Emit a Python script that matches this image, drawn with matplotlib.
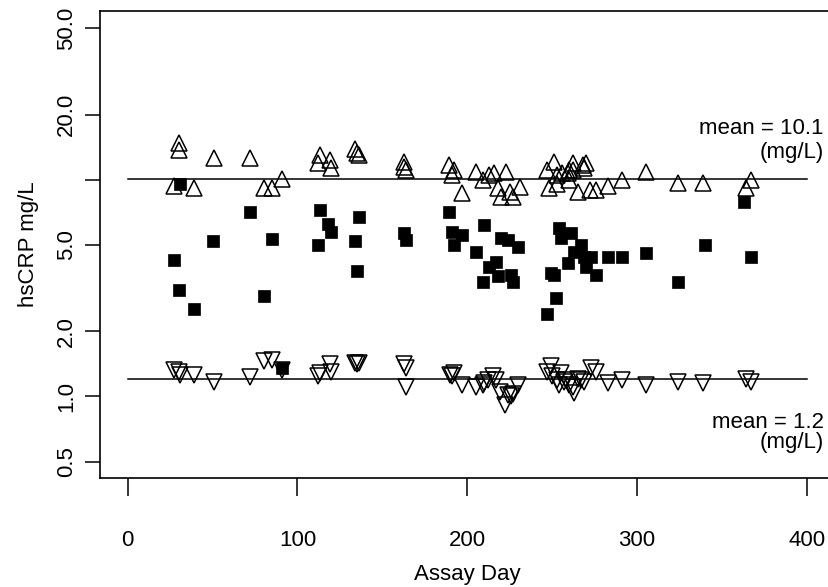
import numpy as np
import matplotlib
matplotlib.use('Agg')
import matplotlib.pyplot as plt

plt.rcParams['font.family'] = ['Liberation Sans', 'DejaVu Sans']

# upper values (open up-triangles)
high_day = [30, 30, 51, 72, 113, 112, 119, 120, 27, 39, 80, 85, 91, 134, 135, 136,
            163, 163, 164, 189, 192, 191, 197, 205, 209, 213, 216, 223, 218, 220,
            225, 227, 231, 247, 251, 248, 253, 253, 256, 259, 260, 260, 262, 262,
            268, 269, 270, 265, 272, 276, 283, 291, 305, 324, 339, 364, 367]
high_val = [14.8, 13.7, 12.6, 12.6, 13.0, 11.9, 12.3, 11.3, 9.4, 9.15, 9.2, 9.15, 10.1,
            13.8, 13.3, 13.0, 12.1, 11.5, 11.1, 11.7, 11.1, 10.5, 8.66, 10.9, 10.0,
            10.5, 10.7, 10.9, 9.15, 8.35, 8.8, 8.35, 9.3, 11.1, 12.1, 9.15, 9.6, 10.5,
            10.7, 10.7, 10.0, 11.1, 11.9, 11.1, 11.7, 11.3, 11.9, 8.8, 8.97, 8.97, 9.4,
            9.98, 10.9, 9.7, 9.7, 9.15, 9.98]

# middle values (filled squares)
mid_day = [31, 72, 113, 118, 120, 50, 85, 112, 27, 30, 80, 39, 136, 134, 135, 163,
           164, 189, 191, 192, 197, 205, 210, 209, 213, 217, 218, 220, 224, 230, 226,
           227, 249, 251, 252, 247, 254, 255, 259, 261, 263, 267, 269, 273, 270, 276,
           283, 291, 305, 324, 340, 363, 367, 91]
mid_val = [9.55, 7.13, 7.26, 6.25, 5.76, 5.24, 5.33, 5.0, 4.26, 3.09, 2.92, 2.53, 6.76,
           5.24, 3.80, 5.66, 5.30, 7.13, 5.76, 5.0, 5.55, 4.66, 6.18, 3.39, 3.97, 4.17,
           3.60, 5.37, 5.27, 4.9, 3.63, 3.39, 3.70, 3.63, 2.85, 2.40, 6.0, 5.4, 4.15,
           5.66, 4.66, 5.0, 4.42, 4.42, 3.97, 3.63, 4.39, 4.39, 4.57, 3.39, 5.0, 7.92,
           4.39, 1.36]

# lower values (open down-triangles)
low_day = [27, 30, 31, 39, 51, 72, 80, 85, 91, 112, 113, 119, 120, 134, 135, 136, 163,
           164, 164, 190, 191, 192, 197, 205, 209, 210, 212, 215, 217, 219, 222, 224,
           226, 227, 230, 249, 247, 250, 255, 253, 257, 254, 258, 260, 262, 263, 265,
           267, 269, 273, 276, 283, 291, 305, 324, 339, 364, 367]
low_val = [1.32, 1.30, 1.25, 1.25, 1.17, 1.23, 1.46, 1.48, 1.32, 1.24, 1.29, 1.41, 1.30,
           1.43, 1.41, 1.42, 1.41, 1.35, 1.11, 1.25, 1.24, 1.28, 1.13, 1.11, 1.13, 1.15,
           1.19, 1.24, 1.19, 1.05, 0.914, 1.02, 1.00, 1.03, 1.13, 1.38, 1.30, 1.24, 1.28,
           1.19, 1.17, 1.13, 1.19, 1.13, 1.11, 1.04, 1.21, 1.19, 1.17, 1.35, 1.30, 1.15,
           1.19, 1.13, 1.17, 1.15, 1.21, 1.17]

mean_high = 10.1
mean_low = 1.2
y_ticks = [0.5, 1.0, 2.0, 5.0, 10.0, 20.0, 50.0]
y_labels = ['0.5', '1.0', '2.0', '5.0', '', '20.0', '50.0']
x_ticks = [0, 100, 200, 300, 400]

fig = plt.figure(figsize=(8.29, 5.87), dpi=100)
ax = fig.add_axes([0.1206, 0.1862, 0.8854, 0.7956])

ax.plot(high_day, high_val, linestyle='none', marker='^', markersize=11.5,
        markerfacecolor='none', markeredgecolor='black', markeredgewidth=1.1)
ax.plot(low_day, low_val, linestyle='none', marker='v', markersize=11.5,
        markerfacecolor='none', markeredgecolor='black', markeredgewidth=1.1)
ax.plot(mid_day, mid_val, linestyle='none', marker='s', markersize=8,
        color='black', markeredgewidth=0.5)

ax.plot([0, 400], [mean_high, mean_high], color='black', linewidth=1.1)
ax.plot([0, 400], [mean_low, mean_low], color='black', linewidth=1.1)

ax.text(410, 17.3, 'mean = %.1f' % mean_high, ha='right', va='center', fontsize=16)
ax.text(410, 13.4, '(mg/L)', ha='right', va='center', fontsize=16)
ax.text(410, 0.757, 'mean = %.1f' % mean_low, ha='right', va='center', fontsize=16)
ax.text(410, 0.61, '(mg/L)', ha='right', va='center', fontsize=16)

ax.set_yscale('log')
ax.set_xlim(-16.3, 415.9)
ax.set_ylim(0.4218, 60.3)
ax.set_yticks(y_ticks)
ax.set_yticklabels(y_labels)
ax.yaxis.set_minor_locator(matplotlib.ticker.NullLocator())
ax.set_xticks(x_ticks)
ax.set_xticklabels([str(t) for t in x_ticks])

ax.tick_params(axis='x', direction='out', length=13, width=1.1, pad=25, labelsize=16)
ax.tick_params(axis='y', direction='out', length=10.6, width=1.1, pad=6, labelsize=16)
for lab in ax.get_yticklabels():
    lab.set_rotation(90)
    lab.set_va('center')

for s in ax.spines.values():
    s.set_linewidth(1.2)

ax.set_xlabel('Assay Day', fontsize=16, labelpad=9)
ax.set_ylabel('hsCRP mg/L', fontsize=16, labelpad=12)

fig.savefig('out.png', dpi=100)
